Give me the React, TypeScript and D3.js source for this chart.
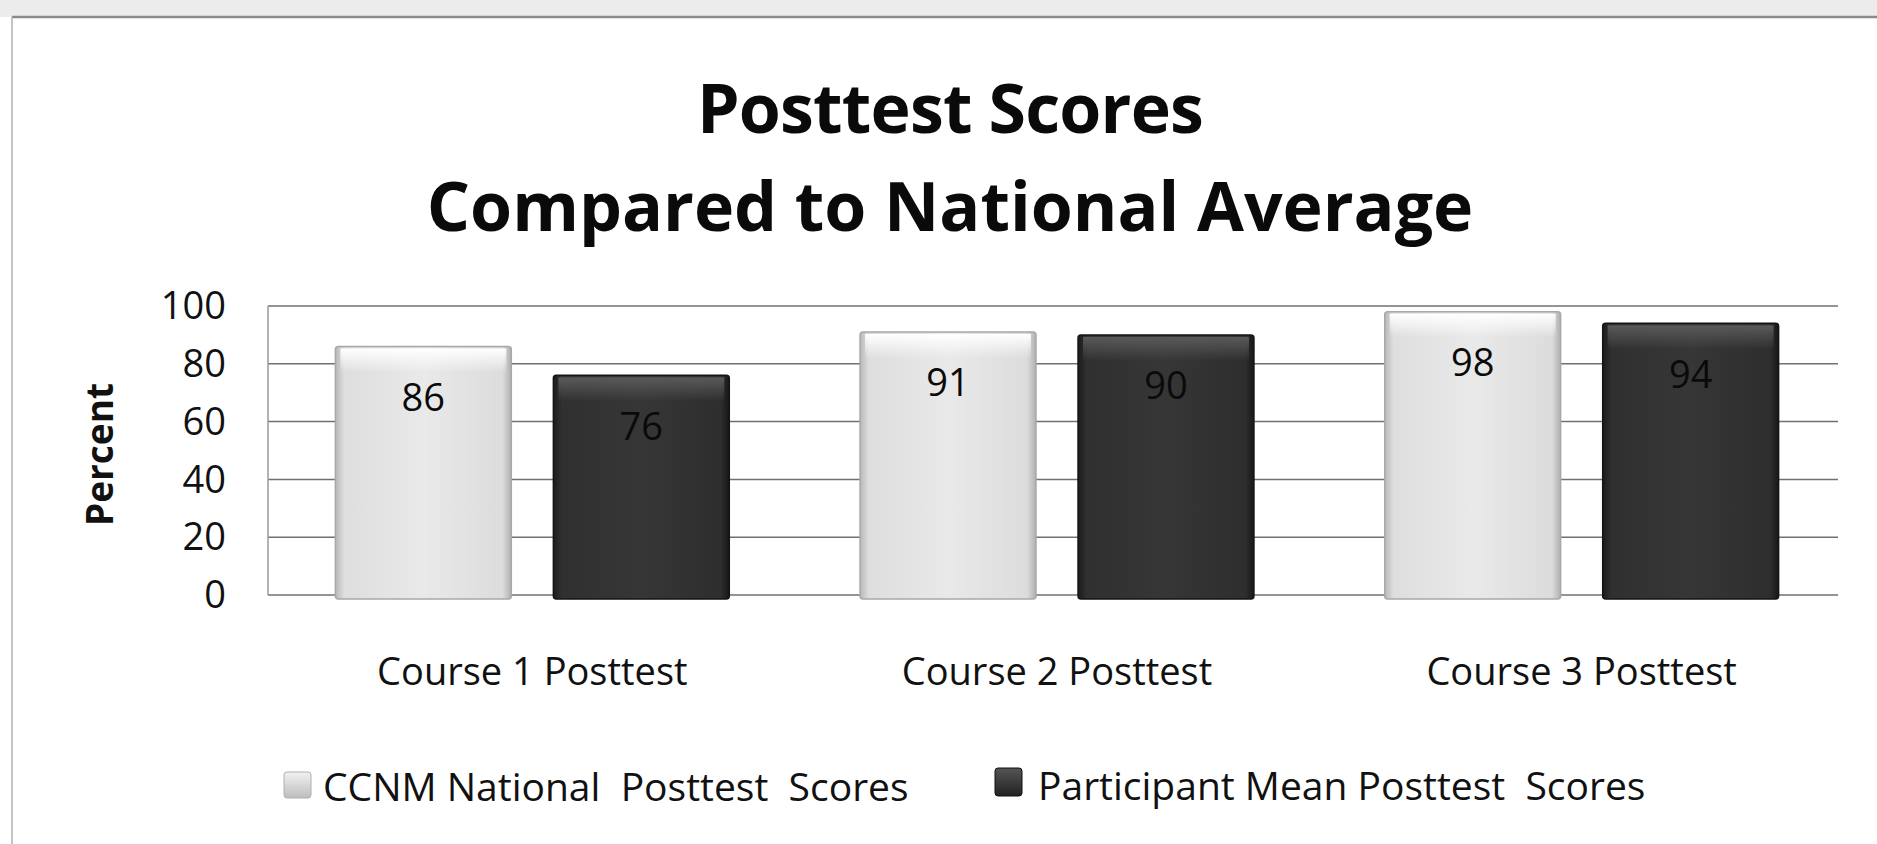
import React from "react";
import * as d3 from "d3";

const categories = ["Course 1 Posttest", "Course 2 Posttest", "Course 3 Posttest"];
const seriesNames = ["CCNM National  Posttest  Scores", "Participant Mean Posttest  Scores"];
const nationalScores = [86, 91, 98];
const participantScores = [76, 90, 94];
const yTicks = [0, 20, 40, 60, 80, 100];
const titleLines = ["Posttest Scores", "Compared to National Average"];

const W = 1877;
const H = 844;
const FONT = "'Open Sans', Lato, sans-serif";

export default function App() {
  const plotLeft = 268;
  const plotRight = 1838;
  const y = d3.scaleLinear().domain([0, 100]).range([595, 306]);
  const x0 = d3.scaleBand<string>().domain(categories).range([270, 1844]).padding(0);
  const x1 = d3
    .scaleBand<string>()
    .domain(["national", "participant"])
    .range([0, x0.bandwidth()])
    .paddingInner(0.193)
    .paddingOuter(0.3);

  const rows = categories.map((c, i) => ({
    c,
    vals: [
      { key: "national", v: nationalScores[i] },
      { key: "participant", v: participantScores[i] },
    ],
  }));

  return (
    <svg
      width={W}
      height={H}
      style={{ position: "absolute", left: 0, top: 0, background: "#fff" }}
      fontFamily={FONT}
    >
      <defs>
        <linearGradient id="lightH" x1="0" x2="1" y1="0" y2="0">
          <stop offset="0" stopColor="#b8b8b8" />
          <stop offset="0.05" stopColor="#dedede" />
          <stop offset="0.5" stopColor="#e9e9e9" />
          <stop offset="0.95" stopColor="#dcdcdc" />
          <stop offset="1" stopColor="#b0b0b0" />
        </linearGradient>
        <linearGradient id="darkH" x1="0" x2="1" y1="0" y2="0">
          <stop offset="0" stopColor="#1c1c1c" />
          <stop offset="0.05" stopColor="#303030" />
          <stop offset="0.5" stopColor="#363636" />
          <stop offset="0.95" stopColor="#2e2e2e" />
          <stop offset="1" stopColor="#181818" />
        </linearGradient>
        <linearGradient id="lightTop" x1="0" x2="0" y1="0" y2="1">
          <stop offset="0" stopColor="#ffffff" />
          <stop offset="1" stopColor="#ffffff" stopOpacity="0" />
        </linearGradient>
        <linearGradient id="darkTop" x1="0" x2="0" y1="0" y2="1">
          <stop offset="0" stopColor="#5a5a5a" />
          <stop offset="1" stopColor="#5a5a5a" stopOpacity="0" />
        </linearGradient>
        <linearGradient id="legLight" x1="0" x2="0" y1="0" y2="1">
          <stop offset="0" stopColor="#f2f2f2" />
          <stop offset="1" stopColor="#bdbdbd" />
        </linearGradient>
        <linearGradient id="legDark" x1="0" x2="0" y1="0" y2="1">
          <stop offset="0" stopColor="#555" />
          <stop offset="1" stopColor="#222" />
        </linearGradient>
      </defs>

      {/* scanned top band */}
      <rect x={0} y={0} width={W} height={17} fill="#ececec" />
      <line x1={12} x2={W} y1={17} y2={17} stroke="#8a8a8a" strokeWidth={2.5} />
      <line x1={12} x2={12} y1={17} y2={H} stroke="#b0b0b0" strokeWidth={1.5} />

      {/* title */}
      {titleLines.map((t, i) => (
        <text
          key={t}
          x={950}
          y={133 + i * 98}
          textAnchor="middle"
          fontWeight={700}
          fontSize={68}
          fill="#0a0a0a"
          letterSpacing={i === 0 ? -0.8 : 0}
        >
          {t}
        </text>
      ))}

      {/* gridlines */}
      {yTicks.map((t) => (
        <line
          key={t}
          x1={plotLeft}
          x2={plotRight}
          y1={y(t)}
          y2={y(t)}
          stroke="#707070"
          strokeWidth={1.5}
        />
      ))}
      <line x1={plotLeft} x2={plotLeft} y1={y(100)} y2={y(0)} stroke="#9a9a9a" strokeWidth={1.5} />

      {/* y ticks */}
      {yTicks.map((t) => (
        <text
          key={"t" + t}
          x={226}
          y={y(t) + 3}
          textAnchor="end"
          dominantBaseline="middle"
          fontSize={38}
          fill="#111"
        >
          {t}
        </text>
      ))}

      <text
        transform={`translate(103,${(y(0) + y(100)) / 2 + 4}) rotate(-90)`}
        textAnchor="middle"
        dominantBaseline="middle"
        fontWeight={700}
        fontSize={37}
        fill="#111"
      >
        Percent
      </text>

      {/* bars */}
      {rows.map((r) => (
        <g key={r.c} transform={`translate(${x0(r.c)},0)`}>
          {r.vals.map((d) => {
            const bx = x1(d.key)!;
            const bw = x1.bandwidth();
            const top = y(d.v);
            const bh = y(0) - top + 4;
            const light = d.key === "national";
            return (
              <g key={d.key}>
                <rect
                  x={bx}
                  y={top}
                  width={bw}
                  height={bh}
                  fill={light ? "url(#lightH)" : "url(#darkH)"}
                  stroke={light ? "#a8a8a8" : "#141414"}
                  strokeWidth={1.5}
                  rx={3}
                />
                <rect
                  x={bx + 5}
                  y={top + 2}
                  width={bw - 10}
                  height={24}
                  fill={light ? "url(#lightTop)" : "url(#darkTop)"}
                />
                <text
                  x={bx + bw / 2}
                  y={top + 54}
                  textAnchor="middle"
                  dominantBaseline="middle"
                  fontSize={38}
                  fill="#0a0a0a"
                >
                  {d.v}
                </text>
              </g>
            );
          })}
        </g>
      ))}

      {/* category labels */}
      {categories.map((c) => (
        <text
          key={"c" + c}
          x={x0(c)! + x0.bandwidth() / 2}
          y={685}
          textAnchor="middle"
          fontSize={38}
          fill="#111"
        >
          {c}
        </text>
      ))}

      {/* legend */}
      <rect x={284} y={772} width={27} height={26} rx={3} fill="url(#legLight)" stroke="#b0b0b0" />
      <text x={323} y={801} fontSize={39} fill="#111" style={{ whiteSpace: "pre" }}>
        {seriesNames[0]}
      </text>
      <rect x={995} y={768} width={27} height={28} rx={3} fill="url(#legDark)" stroke="#111" />
      <text x={1038} y={800} fontSize={39} fill="#111" style={{ whiteSpace: "pre" }}>
        {seriesNames[1]}
      </text>
    </svg>
  );
}
